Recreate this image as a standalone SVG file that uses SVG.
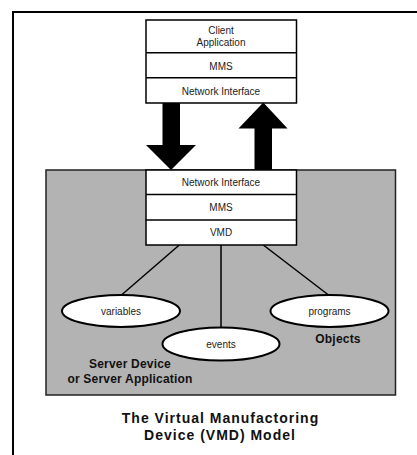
<svg xmlns="http://www.w3.org/2000/svg" width="417" height="455" viewBox="0 0 417 455">
<style>
.box{fill:#fff;stroke:#000;stroke-width:1.5}
.t{font-family:"Liberation Sans",Arial,sans-serif;font-size:10px;fill:#222;text-anchor:middle}
.b{font-family:"Liberation Sans",Arial,sans-serif;font-size:12px;font-weight:bold;fill:#111;text-anchor:middle;letter-spacing:0.2px}
.ttl{font-family:"Liberation Sans",Arial,sans-serif;font-size:14px;font-weight:bold;fill:#111;text-anchor:middle;letter-spacing:1px}
.ln{stroke:#000;stroke-width:1.5;fill:none}
.ell{fill:#fff;stroke:#000;stroke-width:2}
</style>
<rect width="417" height="455" fill="#fff"/>
<path d="M13,456 V12 H418" fill="none" stroke="#000" stroke-width="2"/>
<g id="server">
<rect x="46" y="170" width="349.5" height="225" fill="#b3b3b3" stroke="#222" stroke-width="1.5"/>
<text class="b" x="130" y="368">Server Device</text>
<text class="b" x="130" y="383">or Server Application</text>
<text class="b" x="338" y="343">Objects</text>
</g>
<g id="connectors">
<polygon points="162.5,103 180,103 180,145 196,145 171,170 146,145 162.5,145" fill="#000"/>
<polygon points="254.5,170 272,170 272,128.5 287.5,128.5 263.3,102.5 238.5,128.5 254.5,128.5" fill="#000"/>
<line class="ln" x1="179.3" y1="245" x2="121.5" y2="295"/>
<line class="ln" x1="221" y1="245" x2="221" y2="328"/>
<line class="ln" x1="263.3" y1="245" x2="328.5" y2="295"/>
</g>
<g id="client">
<rect class="box" x="146" y="20" width="150.5" height="83"/>
<line class="ln" x1="146" y1="52.7" x2="296.5" y2="52.7"/>
<line class="ln" x1="146" y1="77.7" x2="296.5" y2="77.7"/>
<text class="t" x="221" y="33.5">Client</text>
<text class="t" x="221" y="46">Application</text>
<text class="t" x="221" y="70">MMS</text>
<text class="t" x="221" y="94.5">Network Interface</text>
</g>
<g id="serverstack">
<rect class="box" x="146" y="170" width="150.5" height="75"/>
<line class="ln" x1="146" y1="194.5" x2="296.5" y2="194.5"/>
<line class="ln" x1="146" y1="220" x2="296.5" y2="220"/>
<text class="t" x="221" y="185.5">Network Interface</text>
<text class="t" x="221" y="210.5">MMS</text>
<text class="t" x="221" y="236">VMD</text>
</g>
<g id="variables">
<ellipse class="ell" cx="121" cy="311" rx="59" ry="16"/>
<text class="t" x="121" y="314.5">variables</text>
</g>
<g id="events">
<ellipse class="ell" cx="221" cy="344" rx="58.5" ry="16.5"/>
<text class="t" x="221" y="347.5">events</text>
</g>
<g id="programs">
<ellipse class="ell" cx="329.5" cy="311" rx="59" ry="16"/>
<text class="t" x="329.5" y="314.5">programs</text>
</g>
<g id="title">
<text class="ttl" x="220.5" y="423">The Virtual Manufactoring</text>
<text class="ttl" x="220" y="440">Device (VMD) Model</text>
</g>
</svg>
